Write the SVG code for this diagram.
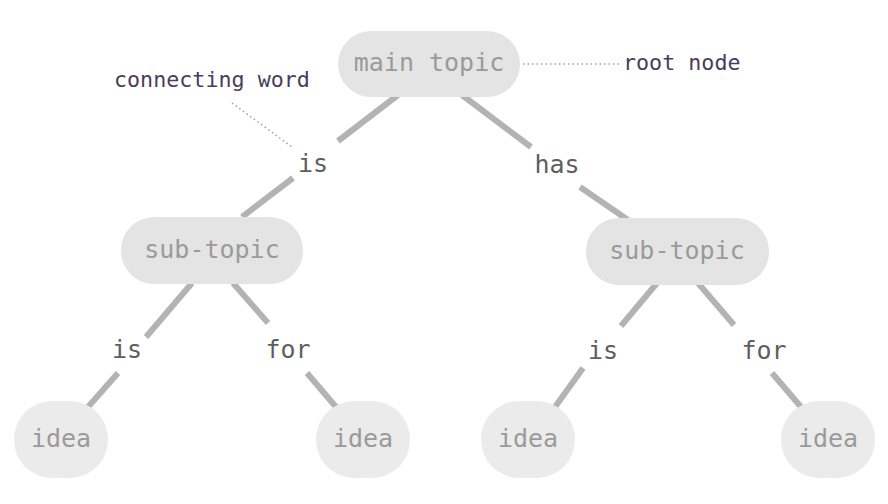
<svg xmlns="http://www.w3.org/2000/svg" width="888" height="504" viewBox="0 0 888 504">
<style>
.node{fill:#e4e4e4}
.leaf{fill:#ebebeb}
.nt{font-family:"DejaVu Sans Mono","Liberation Mono",monospace;font-size:25px;fill:#9a9a9a;text-anchor:middle}
.lbl{font-family:"DejaVu Sans Mono","Liberation Mono",monospace;font-size:25px;fill:#5e5e5e;text-anchor:middle}
.ann{font-family:"DejaVu Sans Mono","Liberation Mono",monospace;font-size:21.7px;fill:#4a3d5c}
.edge{stroke:#b3b3b3;stroke-width:6;fill:none;stroke-linecap:butt}
.dot{stroke:#a0a0a0;stroke-width:1.5;stroke-dasharray:1.5 3;fill:none}
</style>
<rect width="888" height="504" fill="#ffffff"/>
<g id="connectors">
<line class="edge" x1="398" y1="95" x2="338" y2="141"/>
<line class="edge" x1="293" y1="178" x2="242" y2="217"/>
<line class="edge" x1="462" y1="95" x2="531" y2="147"/>
<line class="edge" x1="580" y1="187" x2="628" y2="220"/>
<line class="edge" x1="192" y1="283" x2="146" y2="337"/>
<line class="edge" x1="118" y1="373" x2="88" y2="407"/>
<line class="edge" x1="233" y1="283" x2="268" y2="323"/>
<line class="edge" x1="307" y1="373" x2="336" y2="407"/>
<line class="edge" x1="657" y1="283" x2="621" y2="326"/>
<line class="edge" x1="583" y1="368" x2="555" y2="407"/>
<line class="edge" x1="698" y1="283" x2="734" y2="325"/>
<line class="edge" x1="772" y1="373" x2="801" y2="407"/>
<text class="lbl" x="313" y="172">is</text>
<text class="lbl" x="557" y="173">has</text>
<text class="lbl" x="127" y="358">is</text>
<text class="lbl" x="288" y="358">for</text>
<text class="lbl" x="603" y="359">is</text>
<text class="lbl" x="764" y="359">for</text>
</g>
<g id="annotations">
<line class="dot" x1="523" y1="64" x2="620" y2="64"/>
<line class="dot" x1="232" y1="103" x2="292" y2="147"/>
<text class="ann" x="623" y="70">root node</text>
<text class="ann" x="114" y="87">connecting word</text>
</g>
<g id="main-topic">
<rect class="node" x="338" y="31" width="182" height="66" rx="33"/>
<text class="nt" x="429" y="71">main topic</text>
</g>
<g id="sub-topic-left">
<rect class="node" x="121" y="217" width="182" height="67" rx="33"/>
<text class="nt" x="212" y="258">sub-topic</text>
</g>
<g id="sub-topic-right">
<rect class="node" x="586" y="218" width="183" height="67" rx="33"/>
<text class="nt" x="677" y="259">sub-topic</text>
</g>
<g id="idea-1">
<rect class="leaf" x="14" y="401" width="94" height="77" rx="38"/>
<text class="nt" x="61" y="447">idea</text>
</g>
<g id="idea-2">
<rect class="leaf" x="316" y="401" width="94" height="77" rx="38"/>
<text class="nt" x="363" y="447">idea</text>
</g>
<g id="idea-3">
<rect class="leaf" x="481" y="401" width="94" height="77" rx="38"/>
<text class="nt" x="528" y="447">idea</text>
</g>
<g id="idea-4">
<rect class="leaf" x="781" y="401" width="94" height="77" rx="38"/>
<text class="nt" x="828" y="447">idea</text>
</g>
</svg>
